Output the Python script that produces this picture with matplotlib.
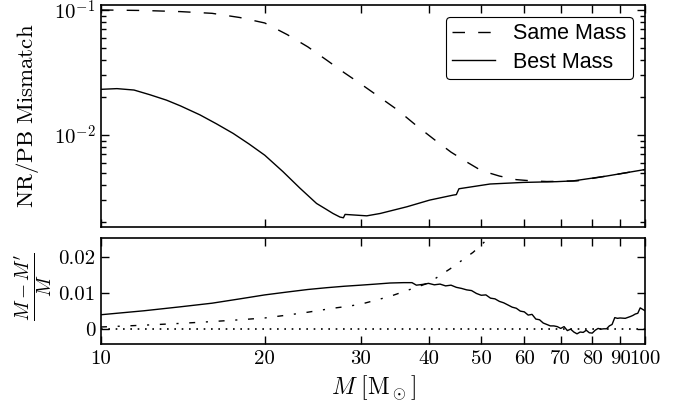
import numpy as np
import matplotlib
matplotlib.use('Agg')
import matplotlib.pyplot as plt
from matplotlib import ticker

plt.rcParams['mathtext.fontset'] = 'cm'
plt.rcParams['font.family'] = ['cmr10', 'DejaVu Serif']
plt.rcParams['axes.formatter.use_mathtext'] = True
plt.rcParams['axes.linewidth'] = 1.2

# 上图: 失配度
m_same = [10, 12, 14, 16, 18, 20, 22, 24, 26, 28, 30, 32, 35, 38, 41, 44, 47, 50,
          54, 58, 62, 66, 70, 75, 80, 85, 90, 95, 100]
mis_same = [0.100, 0.099, 0.097, 0.094, 0.087, 0.0787, 0.0635, 0.0507, 0.0397, 0.0315,
            0.0257, 0.0211, 0.0160, 0.0119, 0.0092, 0.0073, 0.0061, 0.0052, 0.0047,
            0.0044, 0.0043, 0.00425, 0.00427, 0.0043, 0.0045, 0.0047, 0.0049, 0.0051, 0.0053]

m_best = [10, 10.7, 11.5, 12.3, 13.2, 14, 15.2, 16.3, 17.5, 18.7, 20, 21.6, 23.2, 24.9,
          25.9, 26.7, 27.5, 27.9, 28.1, 30.8, 32.6, 36.5, 40.2, 44.4, 45.0, 45.5, 51.9,
          59.7, 68.8, 73.8, 85, 100]
mis_best = [0.0232, 0.0235, 0.0229, 0.0210, 0.0190, 0.0171, 0.0145, 0.0123, 0.0103, 0.0085,
            0.0069, 0.0051, 0.00377, 0.00284, 0.00256, 0.00236, 0.00221, 0.00218, 0.00232,
            0.00226, 0.00236, 0.00267, 0.00302, 0.00331, 0.00334, 0.00372, 0.00406,
            0.00418, 0.00424, 0.0043, 0.0047, 0.0053]

# 下图: 质量偏差
m_dm = [10, 12, 14, 16, 18, 20, 22, 24, 26, 28, 30, 32, 34, 36, 37.3, 38, 39, 40, 41, 42,
        43, 44, 45, 46, 47, 48, 49, 50, 51, 52, 53, 54, 55, 56, 57, 58, 59, 60, 61, 62,
        63, 64, 65, 66, 67, 68, 69, 70, 71, 72, 73, 74, 75, 76, 77, 78, 79, 80, 81, 82,
        83, 84, 85, 86, 87, 88, 89, 90, 92, 94, 95, 96, 97, 98, 99, 100]
dm_best = [0.0039, 0.0050, 0.0061, 0.0071, 0.0083, 0.0094, 0.0102, 0.0109, 0.0114, 0.0118,
           0.0121, 0.0124, 0.0127, 0.0128, 0.0128, 0.0121, 0.0123, 0.0126, 0.0122, 0.0124,
           0.0119, 0.0121, 0.0115, 0.0112, 0.0108, 0.0106, 0.0098, 0.0093, 0.0094, 0.0085,
           0.0083, 0.0076, 0.0072, 0.0066, 0.0060, 0.0057, 0.0049, 0.0047, 0.0038, 0.0040,
           0.0027, 0.0025, 0.0016, 0.0012, 0.0008, 0.0008, 0.0006, 0.0001, 0.0006, -0.0005,
           -0.0001, -0.0009, -0.0014, -0.0009, -0.0010, -0.0004, -0.0011, -0.0012, -0.0004,
           0.0001, -0.0001, 0.0000, 0.0000, 0.0008, 0.0012, 0.0031, 0.0029, 0.0030, 0.0029,
           0.0034, 0.0037, 0.0041, 0.0043, 0.0058, 0.0054, 0.0050]

m_dd = [10, 12, 14, 16, 18, 20, 22, 24, 26.7, 28.3, 30, 34, 37.3, 40, 43.8, 48.3, 51.2, 54]
dm_dd = [0.0005, 0.0010, 0.0015, 0.0020, 0.0025, 0.0030, 0.0038, 0.0046, 0.0057, 0.0062,
         0.0068, 0.0090, 0.0111, 0.0127, 0.0166, 0.0212, 0.0247, 0.0280]

xt = [10, 20, 30, 40, 50, 60, 70, 80, 90, 100]

fig = plt.figure(figsize=(6.81, 4.05), dpi=100)
ax1 = fig.add_axes([0.1483, 0.4395, 0.7988, 0.5482])
ax2 = fig.add_axes([0.1483, 0.1499, 0.7988, 0.2617])

ax1.plot(m_same, mis_same, color='k', lw=1.0, dashes=(9, 9.5), label='Same Mass')
ax1.plot(m_best, mis_best, color='k', lw=1.0, label='Best Mass')
ax1.set_xscale('log')
ax1.set_yscale('log')
ax1.set_xlim(10, 100)
ax1.set_ylim(1.84e-3, 0.1096)
ax1.set_yticks([0.01, 0.1])
ax1.set_yticklabels([r'$10^{-2}$', r'$10^{-1}$'])
ax1.yaxis.set_minor_locator(ticker.LogLocator(base=10, subs=np.arange(2, 10)))
ax1.yaxis.set_minor_formatter(ticker.NullFormatter())
ax1.set_ylabel(r'$\mathrm{NR/PB\ Mismatch}$', fontsize=16.5)
leg = ax1.legend(loc='upper right', prop={'family': 'Liberation Sans', 'size': 15.5},
                 fancybox=True, framealpha=1, edgecolor='k', handlelength=2.0,
                 handletextpad=0.85, borderaxespad=0.55, labelspacing=0.35,
                 borderpad=0.3)
leg.get_frame().set_linewidth(0.8)

ax2.axhline(0, color='k', lw=1.2, linestyle=(0, (1, 3.4)))
ax2.plot(m_dd, dm_dd, color='k', lw=1.0, dashes=(4.3, 7.7, 1.5, 7.7))
ax2.plot(m_dm, dm_best, color='k', lw=1.0)
ax2.set_xscale('log')
ax2.set_xlim(10, 100)
ax2.set_ylim(-0.0043, 0.0251)
ax2.set_yticks([0, 0.01, 0.02])
ax2.set_yticklabels(['0', '0.01', '0.02'])
ax2.set_ylabel(r'$\frac{M-M^\prime}{M}$', fontsize=20)
ax2.set_xlabel(r'$M\ [\mathrm{M}_\odot]$', fontsize=17, labelpad=4)

for ax in (ax1, ax2):
    ax.set_xticks(xt)
    ax.xaxis.set_minor_locator(ticker.NullLocator())
    ax.tick_params(which='both', direction='in', top=True, right=True, labelsize=15, pad=4)
    ax.tick_params(which='major', length=5.8, width=1.0)
    ax.tick_params(which='minor', length=3.6, width=1.0)
ax1.set_xticklabels([])
ax2.set_xticklabels([str(v) for v in xt])
ax1.yaxis.set_label_coords(-0.11, 0.5)
ax2.yaxis.set_label_coords(-0.085, 0.547)

fig.savefig('out.png', dpi=100)
